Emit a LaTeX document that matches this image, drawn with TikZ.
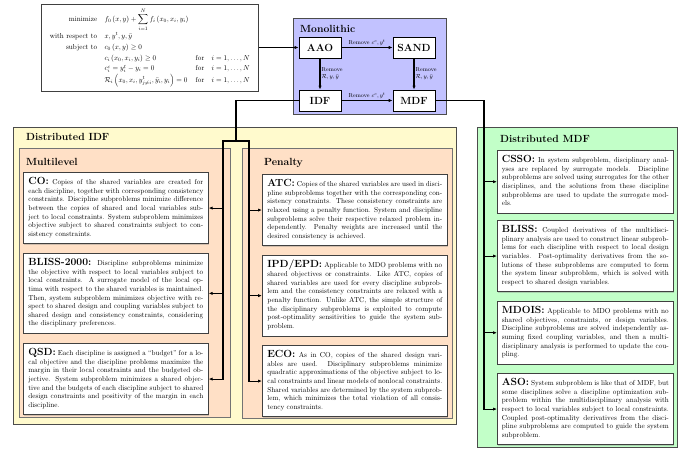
\documentclass[tikz,border=0pt]{standalone}
\usepackage{amsmath}
\usetikzlibrary{arrows.meta,shadows}
\newdimen\pxu \pxu=1.38889pt
\definecolor{idfyellow}{RGB}{255,250,205}
\definecolor{peach}{RGB}{255,224,198}
\definecolor{mdfgreen}{RGB}{194,255,200}
\definecolor{monoblue}{RGB}{194,194,255}
\tikzset{
  shade box/.style={drop shadow={shadow xshift=1.2pt, shadow yshift=-1.2pt, opacity=0.35}},
  box/.style={draw=black!75, line width=0.9pt, fill=white, shade box},
  textbox/.style={box, anchor=north west, align=justify, inner ysep=6.8pt, font=\normalsize},
  leftw/.style={text width=175\pxu, inner xsep=5\pxu},
  rightw/.style={text width=167\pxu, inner xsep=4.5\pxu},
  container/.style={draw=black!70, line width=0.9pt, anchor=north west, inner sep=0pt, shade box},
  title/.style={anchor=west, font=\Large\bfseries, inner sep=0pt},
  mononode/.style={draw=black, line width=1pt, fill=white, font=\Large\bfseries, minimum width=42\pxu, minimum height=21\pxu, inner sep=0pt},
  wire/.style={line width=1.5pt, line cap=rect},
  conn/.style={line width=1.5pt, -{Latex[length=5.5pt,width=4.5pt]}},
  rlabel/.style={font=\footnotesize, inner sep=1.5pt}
}
\newcommand{\hd}[1]{{\Large\bfseries #1}}
\newcommand{\lb}{\linebreak}
\begin{document}
\begin{tikzpicture}[x=1.38889pt, y=-1.38889pt]
\useasboundingbox (0,0) rectangle (685,461);

% containers
\node[container, fill=idfyellow, minimum width=443\pxu, minimum height=297\pxu] (dIDF) at (13,127) {};
\node[container, fill=peach, draw=black!55, minimum width=211\pxu, minimum height=269\pxu] (multi) at (19,148) {};
\node[container, fill=peach, draw=black!55, minimum width=210\pxu, minimum height=270\pxu] (pen) at (242,148) {};
\node[container, fill=mdfgreen, minimum width=200\pxu, minimum height=320\pxu] (dMDF) at (477,127) {};
\node[container, fill=monoblue, minimum width=153\pxu, minimum height=96\pxu] (mono) at (293,18) {};

% titles
\node[title] (tIDF) at (26,137) {Distributed IDF};
\node[title] (tmulti) at (26,162) {Multilevel};
\node[title] (tpen) at (264,162.5) {Penalty};
\node[title] (tMDF) at (500,138.5) {Distributed MDF};
\node[title] (tmono) at (300,28.5) {Monolithic};

% formulation
\node[box, anchor=north west, minimum width=217\pxu, minimum height=87\pxu, inner sep=1pt, font=\normalsize] (form) at (41,4)
{\renewcommand{\arraystretch}{1.25}$\begin{array}{@{}r@{\quad}l@{\quad}l@{}}
\text{minimize} & f_0\left(x,y\right)+\displaystyle\sum_{i=1}^{N} f_i\left(x_0,x_i,y_i\right) & \\
\text{with respect to} & x, y^t, y, \bar{y} & \\
\text{subject to} & c_0\left(x,y\right)\geq 0 & \\
 & c_i\left(x_0,x_i,y_i\right)\geq 0 & \text{for}\quad i=1,\ldots,N\\
 & c^c_i = y^t_i - y_i = 0 & \text{for}\quad i=1,\ldots,N\\
 & \mathcal{R}_i\left(x_0,x_i,y^t_{j\neq i},\bar{y}_i,y_i\right)=0 & \text{for}\quad i=1,\ldots,N
\end{array}$};

% monolithic nodes
\node[mononode] (AAO) at (320,47.5) {AAO};
\node[mononode] (SAND) at (414,47.5) {SAND};
\node[mononode] (IDF) at (320,100.5) {IDF};
\node[mononode] (MDF) at (414,100.5) {MDF};

% multilevel
\node[textbox, leftw] (CO) at (23,172) {\hd{CO:} Copies of the shared variables are created for\lb
each discipline, together with corresponding consistency\lb
constraints. Discipline subproblems minimize difference\lb
between the copies of shared and local variables sub-\lb
ject to local constraints. System subproblem minimizes\lb
objective subject to shared constraints subject to con-\lb
sistency constraints.\strut};
\node[textbox, leftw] (BLa) at (23,253) {\hd{BLISS-2000:} Discipline subproblems minimize\lb
the objective with respect to local variables subject to\lb
local constraints. A surrogate model of the local op-\lb
tima with respect to the shared variables is maintained.\lb
Then, system subproblem minimizes objective with re-\lb
spect to shared design and coupling variables subject to\lb
shared design and consistency constraints, considering\lb
the disciplinary preferences.\strut};
\node[textbox, leftw] (QSD) at (23,343) {\hd{QSD:} Each discipline is assigned a ``budget'' for a lo-\lb
cal objective and the discipline problems maximize the\lb
margin in their local constraints and the budgeted ob-\lb
jective. System subproblem minimizes a shared objec-\lb
tive and the budgets of each discipline subject to shared\lb
design constraints and positivity of the margin in each\lb
discipline.\strut};

% penalty
\node[textbox, leftw] (ATC) at (262,174) {\hd{ATC:} Copies of the shared variables are used in disci-\lb
pline subproblems together with the corresponding con-\lb
sistency constraints. These consistency constraints are\lb
relaxed using a penalty function. System and discipline\lb
subproblems solve their respective relaxed problem in-\lb
dependently. Penalty weights are increased until the\lb
desired consistency is achieved.\strut};
\node[textbox, leftw] (IPD) at (262,255) {\hd{IPD/EPD:} Applicable to MDO problems with no\lb
shared objectives or constraints. Like ATC, copies of\lb
shared variables are used for every discipline subprob-\lb
lem and the consistency constraints are relaxed with a\lb
penalty function. Unlike ATC, the simple structure of\lb
the disciplinary subproblems is exploited to compute\lb
post-optimality sensitivities to guide the system sub-\lb
problem.\strut};
\node[textbox, leftw] (ECO) at (262,345) {\hd{ECO:} As in CO, copies of the shared design vari-\lb
ables are used. Disciplinary subproblems minimize\lb
quadratic approximations of the objective subject to lo-\lb
cal constraints and linear models of nonlocal constraints.\lb
Shared variables are determined by the system subprob-\lb
lem, which minimizes the total violation of all consis-\lb
tency constraints.\strut};

% distributed MDF
\node[textbox, rightw] (CSSO) at (497,150) {\hd{CSSO:} In system subproblem, disciplinary anal-\lb
yses are replaced by surrogate models. Discipline\lb
subproblems are solved using surrogates for the other\lb
disciplines, and the solutions from these discipline\lb
subproblems are used to update the surrogate mod-\lb
els.\strut};
\node[textbox, rightw] (BLb) at (497,220) {\hd{BLISS:} Coupled derivatives of the multidisci-\lb
plinary analysis are used to construct linear subprob-\lb
lems for each discipline with respect to local design\lb
variables. Post-optimality derivatives from the so-\lb
lutions of these subproblems are computed to form\lb
the system linear subproblem, which is solved with\lb
respect to shared design variables.\strut};
\node[textbox, rightw] (MDOIS) at (497,301) {\hd{MDOIS:} Applicable to MDO problems with no\lb
shared objectives, constraints, or design variables.\lb
Discipline subproblems are solved independently as-\lb
suming fixed coupling variables, and then a multi-\lb
disciplinary analysis is performed to update the cou-\lb
pling.\strut};
\node[textbox, rightw] (ASO) at (497,373) {\hd{ASO:} System subproblem is like that of MDF, but\lb
some disciplines solve a discipline optimization sub-\lb
problem within the multidisciplinary analysis with\lb
respect to local variables subject to local constraints.\lb
Coupled post-optimality derivatives from the disci-\lb
pline subproblems are computed to guide the system\lb
subproblem.\strut};

% monolithic connectors
\draw[conn] (AAO.west -| form.east) -- (AAO.west);
\draw[conn] (AAO) -- node[rlabel, above] {Remove $c^c, y^t$} (SAND);
\draw[conn] (AAO) -- node[rlabel, right, align=left] {Remove\\$\mathcal{R}, y, \bar{y}$} (IDF);
\draw[conn] (SAND) -- node[rlabel, right, align=left] {Remove\\$\mathcal{R}, y, \bar{y}$} (MDF);
\draw[conn] (IDF) -- node[rlabel, above] {Remove $c^c, y^t$} (MDF);

% IDF branches
\coordinate (idfdrop) at (236,141);
\coordinate (splitL) at (223,141);
\coordinate (splitR) at (249,141);
\draw[wire] (IDF.west) -| (idfdrop);
\draw[wire] (splitL) -- (splitR);
\draw[conn] (splitL) |- (CO.east);
\draw[conn] (splitL) |- (BLa.east);
\draw[conn] (splitL) |- (QSD.east);
\draw[conn] (splitR) |- (ATC.west);
\draw[conn] (splitR) |- (IPD.west);
\draw[conn] (splitR) |- (ECO.west);

% MDF branches
\coordinate (mdfturn) at (484,100.5);
\draw[wire] (MDF.east) -- (mdfturn);
\draw[conn] (mdfturn) |- (CSSO.west);
\draw[conn] (mdfturn) |- (BLb.west);
\draw[conn] (mdfturn) |- (MDOIS.west);
\draw[conn] (mdfturn) |- (ASO.west);
\end{tikzpicture}
\end{document}
